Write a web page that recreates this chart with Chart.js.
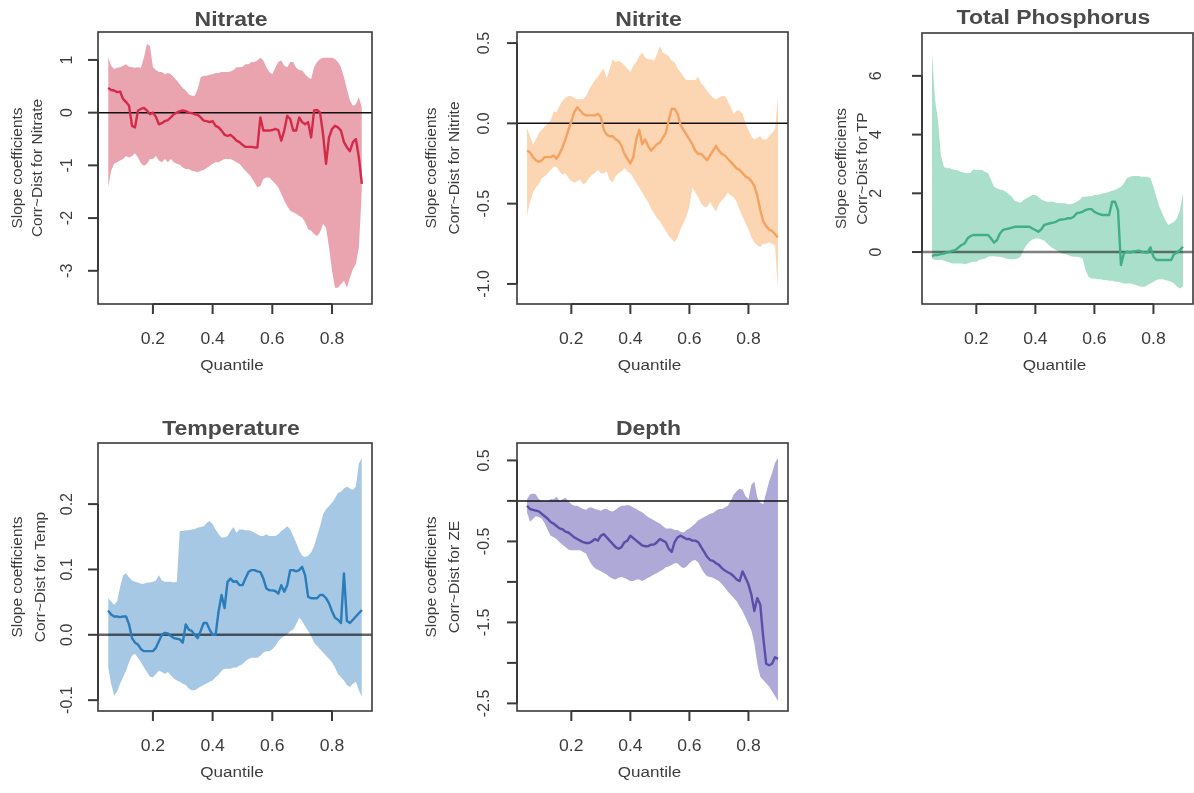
<!DOCTYPE html>
<html><head><meta charset="utf-8">
<script src="https://cdn.jsdelivr.net/npm/chart.js@4.4.1/dist/chart.umd.min.js"></script>
<style>
html,body{margin:0;padding:0;background:#fff;width:1194px;height:793px;overflow:hidden;}
canvas{position:absolute;}
</style></head><body>
<canvas id="c1"></canvas><canvas id="c2"></canvas><canvas id="c3"></canvas><canvas id="c4"></canvas><canvas id="c5"></canvas>
<script>
// ---------- data ----------
const quantile = [0.05,0.06,0.07,0.08,0.09,0.10,0.11,0.12,0.13,0.14,
 0.15,0.16,0.17,0.18,0.19,0.20,0.21,0.22,0.23,0.24,
 0.25,0.26,0.27,0.28,0.29,0.30,0.31,0.32,0.33,0.34,
 0.35,0.36,0.37,0.38,0.39,0.40,0.41,0.42,0.43,0.44,
 0.45,0.46,0.47,0.48,0.49,0.50,0.51,0.52,0.53,0.54,
 0.55,0.56,0.57,0.58,0.59,0.60,0.61,0.62,0.63,0.64,
 0.65,0.66,0.67,0.68,0.69,0.70,0.71,0.72,0.73,0.74,
 0.75,0.76,0.77,0.78,0.79,0.80,0.81,0.82,0.83,0.84,
 0.85,0.86,0.87,0.88,0.89,0.90];

const xTicks = [0.2,0.4,0.6,0.8];
const xTickLabels = ["0.2","0.4","0.6","0.8"];

// Nitrate
const nitrateCoef = [0.47,0.43,0.42,0.39,0.40,0.26,0.20,0.13,-0.25,-0.28,
 0.04,0.07,0.09,0.04,-0.03,0.00,-0.08,-0.22,-0.20,-0.16,
 -0.14,-0.09,-0.03,0.00,0.03,0.04,0.03,0.00,-0.01,-0.03,
 -0.04,-0.09,-0.15,-0.16,-0.18,-0.16,-0.25,-0.28,-0.34,-0.42,
 -0.44,-0.42,-0.47,-0.53,-0.56,-0.61,-0.65,-0.65,-0.65,-0.66,
 -0.66,-0.09,-0.34,-0.34,-0.34,-0.33,-0.31,-0.33,-0.53,-0.34,
 -0.06,-0.12,-0.34,-0.34,-0.09,-0.18,-0.22,-0.18,-0.47,0.04,
 0.05,0.00,-0.41,-0.97,-0.47,-0.31,-0.25,-0.28,-0.34,-0.56,
 -0.66,-0.73,-0.56,-0.50,-0.85,-1.35];
const nitrateUpper = [1.05,0.89,0.83,0.85,0.86,0.89,0.92,0.87,0.86,0.85,
 0.86,0.85,1.05,1.30,1.27,0.86,0.81,0.77,0.77,0.73,
 0.75,0.73,0.67,0.61,0.54,0.47,0.42,0.35,0.32,0.32,
 0.45,0.67,0.70,0.70,0.72,0.73,0.75,0.75,0.77,0.77,
 0.77,0.78,0.81,0.86,0.86,0.87,0.92,0.92,0.96,0.96,
 0.99,1.04,0.99,0.86,0.77,0.73,0.85,0.96,0.99,0.89,
 0.86,0.96,0.96,0.85,0.81,0.80,0.73,0.67,0.64,0.86,
 0.96,1.02,1.04,1.04,1.04,1.04,1.02,0.96,0.86,0.67,
 0.45,0.23,0.13,0.16,0.29,0.10];
const nitrateLower = [-1.42,-1.10,-0.97,-0.94,-0.91,-0.88,-0.82,-0.85,-0.82,-0.77,
 -0.85,-0.96,-1.01,-0.97,-0.88,-0.88,-0.82,-0.91,-0.94,-0.88,
 -0.94,-0.88,-0.94,-0.97,-0.99,-1.04,-1.07,-1.07,-1.10,-1.11,
 -1.13,-1.10,-1.09,-1.05,-1.01,-0.97,-0.94,-0.94,-0.91,-0.88,
 -0.88,-0.88,-0.91,-0.94,-0.97,-1.04,-1.10,-1.16,-1.23,-1.32,
 -1.42,-1.39,-1.26,-1.23,-1.23,-1.29,-1.35,-1.42,-1.54,-1.67,
 -1.77,-1.86,-1.89,-1.92,-1.96,-1.99,-2.08,-2.21,-2.24,-2.30,
 -2.34,-2.27,-2.11,-2.18,-2.56,-3.00,-3.32,-3.32,-3.25,-3.19,
 -3.32,-3.13,-2.97,-2.87,-2.56,-1.48];
const nitrateTicks = [1,0,-1,-2,-3];
const nitrateTickLabels = ["1","0","-1","-2","-3"];

// Nitrite
const nitriteCoef = [-0.17,-0.18,-0.21,-0.23,-0.24,-0.23,-0.21,-0.21,-0.21,-0.20,
 -0.22,-0.19,-0.15,-0.10,-0.04,0.01,0.07,0.10,0.08,0.06,
 0.05,0.05,0.05,0.05,0.06,0.04,-0.04,-0.07,-0.08,-0.08,
 -0.10,-0.11,-0.14,-0.19,-0.22,-0.25,-0.21,-0.10,-0.04,-0.13,
 -0.10,-0.14,-0.17,-0.15,-0.13,-0.12,-0.09,-0.06,0.02,0.09,
 0.09,0.06,-0.01,-0.04,-0.07,-0.10,-0.13,-0.17,-0.19,-0.19,
 -0.21,-0.23,-0.20,-0.17,-0.14,-0.17,-0.19,-0.20,-0.22,-0.24,
 -0.26,-0.28,-0.29,-0.31,-0.33,-0.34,-0.36,-0.39,-0.45,-0.54,
 -0.61,-0.64,-0.66,-0.67,-0.69,-0.71];
const nitriteUpper = [-0.03,-0.08,-0.13,-0.10,-0.06,-0.04,-0.02,0.00,0.02,0.07,
 0.07,0.11,0.14,0.16,0.17,0.17,0.16,0.15,0.15,0.15,
 0.17,0.21,0.24,0.27,0.29,0.32,0.34,0.28,0.34,0.40,
 0.38,0.39,0.38,0.36,0.34,0.32,0.36,0.38,0.42,0.44,
 0.41,0.40,0.40,0.39,0.43,0.48,0.44,0.43,0.42,0.39,
 0.38,0.34,0.32,0.29,0.27,0.27,0.27,0.27,0.29,0.25,
 0.23,0.20,0.18,0.16,0.15,0.16,0.17,0.17,0.14,0.10,
 0.06,0.08,0.08,0.06,0.00,-0.04,-0.08,-0.10,-0.09,-0.08,
 -0.10,-0.10,-0.08,-0.06,-0.04,0.17];
const nitriteLower = [-0.57,-0.49,-0.43,-0.40,-0.38,-0.34,-0.33,-0.31,-0.29,-0.27,
 -0.27,-0.30,-0.32,-0.31,-0.34,-0.36,-0.37,-0.36,-0.35,-0.38,
 -0.37,-0.34,-0.32,-0.31,-0.29,-0.31,-0.31,-0.30,-0.35,-0.37,
 -0.33,-0.31,-0.30,-0.28,-0.30,-0.31,-0.34,-0.37,-0.40,-0.43,
 -0.46,-0.49,-0.53,-0.56,-0.59,-0.61,-0.64,-0.67,-0.70,-0.72,
 -0.74,-0.71,-0.66,-0.62,-0.58,-0.52,-0.40,-0.43,-0.46,-0.50,
 -0.52,-0.52,-0.49,-0.52,-0.55,-0.50,-0.48,-0.46,-0.43,-0.45,
 -0.46,-0.49,-0.54,-0.58,-0.62,-0.66,-0.71,-0.74,-0.76,-0.77,
 -0.75,-0.75,-0.74,-0.75,-0.76,-1.03];
const nitriteTicks = [0.5,0,-0.5,-1];
const nitriteTickLabels = ["0.5","0.0","-0.5","-1.0"];

// Total Phosphorus
const tpCoef = [-0.14,-0.10,-0.10,-0.07,-0.05,-0.02,0.01,0.05,0.07,0.16,
 0.24,0.29,0.46,0.54,0.58,0.58,0.58,0.58,0.58,0.58,
 0.46,0.32,0.41,0.63,0.75,0.78,0.80,0.83,0.86,0.86,
 0.86,0.86,0.86,0.86,0.80,0.75,0.69,0.77,0.92,0.95,
 0.98,1.00,1.03,1.09,1.11,1.12,1.15,1.15,1.20,1.32,
 1.34,1.37,1.43,1.46,1.46,1.37,1.32,1.28,1.26,1.26,
 1.26,1.71,1.71,1.43,-0.44,-0.05,0.01,-0.02,0.01,0.03,
 0.05,0.01,-0.02,-0.02,0.16,-0.16,-0.27,-0.27,-0.27,-0.27,
 -0.27,-0.27,-0.07,-0.02,0.07,0.18];
const tpUpper = [6.8,5.2,4.5,3.3,2.90,2.85,2.85,2.81,2.79,2.77,
 2.73,2.70,2.68,2.70,2.81,2.79,2.79,2.79,2.73,2.68,
 2.45,2.22,2.17,2.13,2.11,2.05,1.97,1.88,1.75,1.71,
 1.68,1.77,1.83,1.88,1.94,1.94,1.88,1.79,1.75,1.71,
 1.71,1.71,1.68,1.66,1.66,1.66,1.63,1.63,1.66,1.71,
 1.77,1.88,1.88,1.90,1.90,1.94,1.94,1.97,2.00,2.02,
 2.05,2.09,2.11,2.17,2.22,2.34,2.51,2.56,2.59,2.59,
 2.59,2.56,2.56,2.56,2.51,2.22,1.88,1.54,1.32,1.09,
 0.92,0.98,1.03,1.15,1.43,2.00];
const tpLower = [-0.22,-0.27,-0.27,-0.27,-0.29,-0.33,-0.36,-0.39,-0.39,-0.39,
 -0.39,-0.41,-0.39,-0.36,-0.33,-0.33,-0.27,-0.25,-0.22,-0.16,
 -0.14,-0.14,-0.16,-0.16,-0.18,-0.22,-0.25,-0.25,-0.25,-0.22,
 -0.16,0.07,0.24,0.35,0.43,0.46,0.46,0.43,0.39,0.29,
 0.20,0.12,0.07,0.01,-0.05,-0.07,-0.10,-0.14,-0.16,-0.16,
 -0.18,-0.22,-0.61,-0.84,-0.90,-0.90,-0.93,-0.93,-0.95,-0.95,
 -0.98,-0.98,-1.01,-1.01,-1.04,-1.07,-1.07,-1.07,-1.09,-1.12,
 -1.16,-1.18,-1.18,-1.12,-1.07,-1.01,-0.95,-0.93,-0.93,-0.95,
 -0.98,-1.01,-1.07,-1.18,-1.24,-1.18];
const tpTicks = [6,4,2,0];
const tpTickLabels = ["6","4","2","0"];

// Temperature
const tempCoef = [0.037,0.031,0.028,0.028,0.027,0.028,0.028,0.016,-0.005,-0.012,
 -0.015,-0.022,-0.025,-0.025,-0.025,-0.025,-0.020,-0.010,0.000,0.003,
 0.002,-0.002,-0.005,-0.006,-0.007,-0.012,0.016,0.008,0.006,0.000,
 -0.005,0.006,0.018,0.018,0.008,0.000,0.000,0.036,0.061,0.041,
 0.081,0.086,0.081,0.082,0.076,0.076,0.086,0.096,0.099,0.099,
 0.097,0.096,0.086,0.071,0.068,0.068,0.067,0.063,0.076,0.066,
 0.076,0.099,0.099,0.097,0.099,0.104,0.091,0.058,0.056,0.056,
 0.056,0.061,0.061,0.056,0.048,0.036,0.026,0.023,0.018,0.094,
 0.021,0.018,0.023,0.028,0.033,0.038];
const tempUpper = [0.056,0.051,0.046,0.051,0.073,0.091,0.094,0.088,0.083,0.081,
 0.080,0.078,0.078,0.080,0.080,0.081,0.083,0.091,0.083,0.081,
 0.081,0.081,0.080,0.081,0.159,0.159,0.160,0.160,0.161,0.162,
 0.164,0.165,0.166,0.171,0.174,0.169,0.161,0.154,0.149,0.149,
 0.151,0.159,0.165,0.156,0.161,0.161,0.160,0.160,0.159,0.156,
 0.154,0.151,0.151,0.154,0.151,0.151,0.151,0.154,0.159,0.162,
 0.166,0.161,0.151,0.141,0.129,0.121,0.119,0.121,0.126,0.136,
 0.151,0.166,0.184,0.192,0.197,0.202,0.209,0.217,0.219,0.224,
 0.227,0.224,0.222,0.227,0.262,0.270];
const tempLower = [-0.050,-0.075,-0.093,-0.087,-0.075,-0.065,-0.055,-0.042,-0.032,-0.029,
 -0.035,-0.042,-0.050,-0.057,-0.064,-0.065,-0.060,-0.055,-0.057,-0.060,
 -0.057,-0.062,-0.067,-0.070,-0.072,-0.075,-0.077,-0.082,-0.085,-0.085,
 -0.082,-0.079,-0.077,-0.074,-0.072,-0.070,-0.065,-0.061,-0.055,-0.052,
 -0.052,-0.052,-0.050,-0.050,-0.047,-0.045,-0.040,-0.037,-0.035,-0.035,
 -0.035,-0.032,-0.027,-0.025,-0.025,-0.022,-0.017,-0.010,-0.005,-0.002,
 0.001,0.006,0.008,0.016,0.026,0.021,0.013,0.006,-0.002,-0.012,
 -0.017,-0.022,-0.027,-0.032,-0.037,-0.042,-0.050,-0.060,-0.065,-0.070,
 -0.077,-0.080,-0.075,-0.072,-0.085,-0.095];
const tempTicks = [0.2,0.1,0,-0.1];
const tempTickLabels = ["0.2","0.1","0.0","-0.1"];

// Depth
const depthCoef = [-0.06,-0.10,-0.11,-0.12,-0.13,-0.16,-0.19,-0.22,-0.26,-0.28,
 -0.31,-0.34,-0.35,-0.38,-0.39,-0.42,-0.45,-0.47,-0.49,-0.51,
 -0.52,-0.52,-0.50,-0.47,-0.49,-0.43,-0.41,-0.45,-0.49,-0.53,
 -0.57,-0.59,-0.57,-0.51,-0.49,-0.43,-0.46,-0.49,-0.52,-0.55,
 -0.56,-0.56,-0.54,-0.54,-0.51,-0.47,-0.49,-0.51,-0.59,-0.63,
 -0.51,-0.45,-0.43,-0.45,-0.47,-0.47,-0.49,-0.49,-0.51,-0.57,
 -0.63,-0.69,-0.73,-0.74,-0.77,-0.79,-0.83,-0.86,-0.88,-0.90,
 -0.93,-0.97,-0.99,-0.87,-0.95,-1.03,-1.16,-1.36,-1.20,-1.28,
 -1.68,-2.01,-2.03,-2.01,-1.93,-1.95];
const depthUpper = [0.02,0.08,0.09,0.08,0.02,0.00,0.00,0.00,0.02,0.02,
 0.05,0.00,0.02,0.04,0.00,-0.04,-0.06,-0.06,-0.08,-0.10,
 -0.11,-0.08,-0.08,-0.10,-0.11,-0.12,-0.10,-0.10,-0.12,-0.13,
 -0.11,-0.08,-0.06,-0.06,-0.05,-0.06,-0.08,-0.10,-0.12,-0.14,
 -0.17,-0.20,-0.22,-0.24,-0.26,-0.28,-0.31,-0.34,-0.34,-0.34,
 -0.36,-0.36,-0.38,-0.39,-0.36,-0.34,-0.31,-0.28,-0.24,-0.22,
 -0.20,-0.18,-0.16,-0.15,-0.12,-0.10,-0.10,-0.08,-0.06,0.00,
 0.08,0.12,0.15,0.14,0.06,0.02,0.20,0.24,0.04,-0.02,
 -0.04,0.10,0.24,0.34,0.47,0.53];
const depthLower = [-0.14,-0.26,-0.22,-0.19,-0.20,-0.22,-0.28,-0.36,-0.43,-0.45,
 -0.47,-0.51,-0.54,-0.57,-0.60,-0.61,-0.61,-0.61,-0.61,-0.63,
 -0.65,-0.73,-0.79,-0.83,-0.85,-0.87,-0.89,-0.91,-0.94,-0.96,
 -0.97,-0.95,-0.94,-0.95,-0.97,-0.99,-0.99,-0.97,-0.97,-0.99,
 -0.97,-0.95,-0.93,-0.91,-0.89,-0.87,-0.85,-0.82,-0.81,-0.79,
 -0.77,-0.77,-0.81,-0.83,-0.81,-0.77,-0.74,-0.73,-0.76,-0.83,
 -0.89,-0.93,-0.94,-0.95,-0.97,-0.99,-1.03,-1.07,-1.12,-1.16,
 -1.20,-1.24,-1.30,-1.36,-1.44,-1.52,-1.60,-1.76,-2.01,-2.17,
 -2.21,-2.25,-2.29,-2.35,-2.41,-2.47];
const depthTicks = [0.5,0,-0.5,-1,-1.5,-2,-2.5];
const depthTickLabels = ["0.5","","-0.5","","-1.5","","-2.5"];

// ---------- panel layout / style ----------
const FONT = '"Liberation Sans", Arial, Helvetica, sans-serif';
const panels = [
 {id:'c1', title:'Nitrate', ylab:'Corr~Dist for Nitrate', coef:nitrateCoef, hi:nitrateUpper, lo:nitrateLower,
  yTicks:nitrateTicks, yLabels:nitrateTickLabels, yMin:-3.63, yMax:1.53,
  line:'#d42a4a', band:'#eaa4b0', zero:'#111', zeroW:1.5,
  cell:[0,0,400,396], pad:{left:98,right:28,top:32,bottom:92}, labDx:-30, t1Dx:-80, t2Dx:-60, titleDy:-12},
 {id:'c2', title:'Nitrite', ylab:'Corr~Dist for Nitrite', coef:nitriteCoef, hi:nitriteUpper, lo:nitriteLower,
  yTicks:nitriteTicks, yLabels:nitriteTickLabels, yMin:-1.125, yMax:0.569,
  line:'#f5a261', band:'#fcd6b2', zero:'#111', zeroW:1.5,
  cell:[400,0,400,396], pad:{left:117,right:12,top:32,bottom:92}, labDx:-32, t1Dx:-85, t2Dx:-62, titleDy:-12},
 {id:'c3', title:'Total Phosphorus', ylab:'Corr~Dist for TP', coef:tpCoef, hi:tpUpper, lo:tpLower,
  yTicks:tpTicks, yLabels:tpTickLabels, yMin:-1.77, yMax:7.46,
  line:'#3fae89', band:'#aadfcc', zero:'rgba(0,0,0,0.5)', zeroW:2.5,
  cell:[800,0,394,396], pad:{left:122,right:1,top:33,bottom:92}, labDx:-45, t1Dx:-80, t2Dx:-59, titleDy:-15},
 {id:'c4', title:'Temperature', ylab:'Corr~Dist for Temp', coef:tempCoef, hi:tempUpper, lo:tempLower,
  yTicks:tempTicks, yLabels:tempTickLabels, yMin:-0.1166, yMax:0.2935,
  line:'#2a7cba', band:'#a6c8e4', zero:'rgba(0,0,0,0.6)', zeroW:2.5,
  cell:[0,396,400,397], pad:{left:98,right:28,top:47,bottom:82}, labDx:-30, t1Dx:-80, t2Dx:-57, titleDy:-14},
 {id:'c5', title:'Depth', ylab:'Corr~Dist for ZE', coef:depthCoef, hi:depthUpper, lo:depthLower,
  yTicks:depthTicks, yLabels:depthTickLabels, yMin:-2.594, yMax:0.715,
  line:'#5a4ea8', band:'#aea9d7', zero:'#111', zeroW:1.5,
  cell:[400,396,400,397], pad:{left:117,right:12,top:47,bottom:82}, labDx:-32, t1Dx:-85, t2Dx:-62, titleDy:-14}
];

function txt(ctx, s, x, y, font, color, rot, sx){
  ctx.save();
  ctx.font = font; ctx.fillStyle = color; ctx.textAlign = 'center'; ctx.textBaseline = 'middle';
  ctx.translate(x, y);
  if (rot) ctx.rotate(rot);
  if (sx) ctx.scale(sx, 1);
  ctx.fillText(s, 0, 0);
  ctx.restore();
}

function makePlugin(p){
  return {
    id:'rStyle',
    afterDatasetDraw(chart, args){
      if (args.index !== 1) return;
      const ctx = chart.ctx, a = chart.chartArea, y = chart.scales.y.getPixelForValue(0);
      ctx.save();
      ctx.beginPath(); ctx.rect(a.left, a.top, a.right - a.left, a.bottom - a.top); ctx.clip();
      ctx.strokeStyle = p.zero; ctx.lineWidth = p.zeroW;
      ctx.beginPath(); ctx.moveTo(a.left, y); ctx.lineTo(a.right, y); ctx.stroke();
      ctx.restore();
    },
    afterDraw(chart){
      const ctx = chart.ctx, a = chart.chartArea, xs = chart.scales.x, ys = chart.scales.y;
      const axisCol = '#3a3a3a', textCol = '#3c3c3c';
      ctx.save();
      // box
      ctx.strokeStyle = axisCol; ctx.lineWidth = 1.6;
      ctx.strokeRect(a.left, a.top, a.right - a.left, a.bottom - a.top);
      // x axis
      ctx.lineWidth = 2;
      const x0 = xs.getPixelForValue(xTicks[0]), x1 = xs.getPixelForValue(xTicks[xTicks.length-1]);
      ctx.beginPath(); ctx.moveTo(x0, a.bottom); ctx.lineTo(x1, a.bottom); ctx.stroke();
      xTicks.forEach((v, i) => {
        const x = xs.getPixelForValue(v);
        ctx.beginPath(); ctx.moveTo(x, a.bottom); ctx.lineTo(x, a.bottom + 10); ctx.stroke();
        txt(ctx, xTickLabels[i], x, a.bottom + 36, '16px ' + FONT, textCol, 0, 1.1);
      });
      txt(ctx, 'Quantile', (a.left + a.right) / 2 - 3, a.bottom + 62, '15.5px ' + FONT, textCol, 0, 1.1);
      // y axis
      const yv = p.yTicks;
      const yTop = ys.getPixelForValue(yv[0]), yBot = ys.getPixelForValue(yv[yv.length-1]);
      ctx.beginPath(); ctx.moveTo(a.left, yTop); ctx.lineTo(a.left, yBot); ctx.stroke();
      yv.forEach((v, i) => {
        const y = ys.getPixelForValue(v);
        ctx.beginPath(); ctx.moveTo(a.left, y); ctx.lineTo(a.left - 10, y); ctx.stroke();
        if (p.yLabels[i]) txt(ctx, p.yLabels[i], a.left + p.labDx, y, '16px ' + FONT, textCol, -Math.PI/2);
      });
      const cy = (a.top + a.bottom) / 2;
      txt(ctx, 'Slope coefficients', a.left + p.t1Dx, cy, '15.5px ' + FONT, textCol, -Math.PI/2);
      txt(ctx, p.ylab, a.left + p.t2Dx, cy, '15.5px ' + FONT, textCol, -Math.PI/2);
      // title
      txt(ctx, p.title, (a.left + a.right) / 2 - 4, a.top + p.titleDy, 'bold 20px ' + FONT, '#4a4a4a', 0, 1.15);
      ctx.restore();
    }
  };
}

panels.forEach(p => {
  const cv = document.getElementById(p.id);
  cv.width = p.cell[2]; cv.height = p.cell[3];
  cv.style.left = p.cell[0] + 'px'; cv.style.top = p.cell[1] + 'px';
  cv.style.width = p.cell[2] + 'px'; cv.style.height = p.cell[3] + 'px';
  const pts = arr => quantile.map((q, i) => ({x:q, y:arr[i]}));
  new Chart(cv, {
    type:'line',
    data:{
      datasets:[
        {label:'coef', data:pts(p.coef), borderColor:p.line, borderWidth:2.4, pointRadius:0, fill:false, tension:0, borderJoinStyle:'round'},
        {label:'upper', data:pts(p.hi), borderColor:'rgba(0,0,0,0)', borderWidth:0, pointRadius:0, backgroundColor:p.band, fill:'+1', tension:0},
        {label:'lower', data:pts(p.lo), borderColor:'rgba(0,0,0,0)', borderWidth:0, pointRadius:0, fill:false, tension:0}
      ]
    },
    options:{
      responsive:false, animation:false, devicePixelRatio:1,
      layout:{padding:p.pad},
      plugins:{legend:{display:false}, tooltip:{enabled:false}, title:{display:false}},
      scales:{
        x:{type:'linear', min:0.016, max:0.934, display:false},
        y:{type:'linear', min:p.yMin, max:p.yMax, display:false}
      },
      elements:{line:{capBezierPoints:false}}
    },
    plugins:[makePlugin(p)]
  });
});
</script>
</body></html>
